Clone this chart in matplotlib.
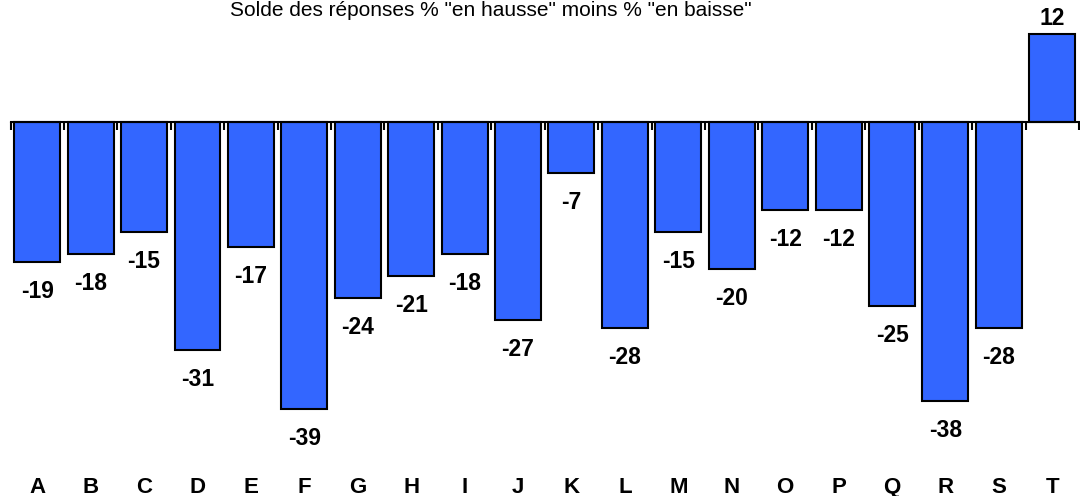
import numpy as np
import matplotlib.pyplot as plt

plt.rcParams['font.family'] = ['Liberation Sans', 'DejaVu Sans']

cats = list("ABCDEFGHIJKLMNOPQRST")
vals = [-19, -18, -15, -31, -17, -39, -24, -21, -18, -27,
        -7, -28, -15, -20, -12, -12, -25, -38, -28, 12]
title = 'Solde des réponses % "en hausse" moins % "en baisse"'

fig = plt.figure(figsize=(10.8, 4.96), dpi=100)
ax = fig.add_axes([10.5 / 1080, 0, 1068.5 / 1080, 1])

x = np.arange(len(cats))
ax.bar(x, vals, width=0.86, color="#3366FF", edgecolor="black", linewidth=1.5)

ax.set_xlim(-0.5, len(cats) - 0.5)
ax.set_ylim(-50.9, 16.6)

# zero line with tick marks between bars
for s in ["left", "right", "top"]:
    ax.spines[s].set_visible(False)
ax.spines["bottom"].set_position(("data", 0))
ax.spines["bottom"].set_linewidth(1.5)
ax.set_xticks(np.arange(-0.5, len(cats), 1))
ax.set_xticklabels([])
ax.tick_params(axis="x", direction="out", length=6, width=1.5)
ax.set_yticks([])

for xi, v in zip(x, vals):
    if v < 0:
        ax.annotate(str(v), (xi, v), xytext=(0, -13), textcoords="offset points",
                    ha="center", va="top", fontsize=16.5, fontweight="bold")
    else:
        ax.annotate(str(v), (xi, v), xytext=(0, 3), textcoords="offset points",
                    ha="center", va="bottom", fontsize=16.5, fontweight="bold")

for xi, c in zip(x, cats):
    ax.text(xi, -48.3, c, ha="center", va="top", fontsize=16, fontweight="bold")

fig.text(491 / 1080, 0.998, title, ha="center", va="top", fontsize=15)

fig.savefig("out.png", dpi=100)
